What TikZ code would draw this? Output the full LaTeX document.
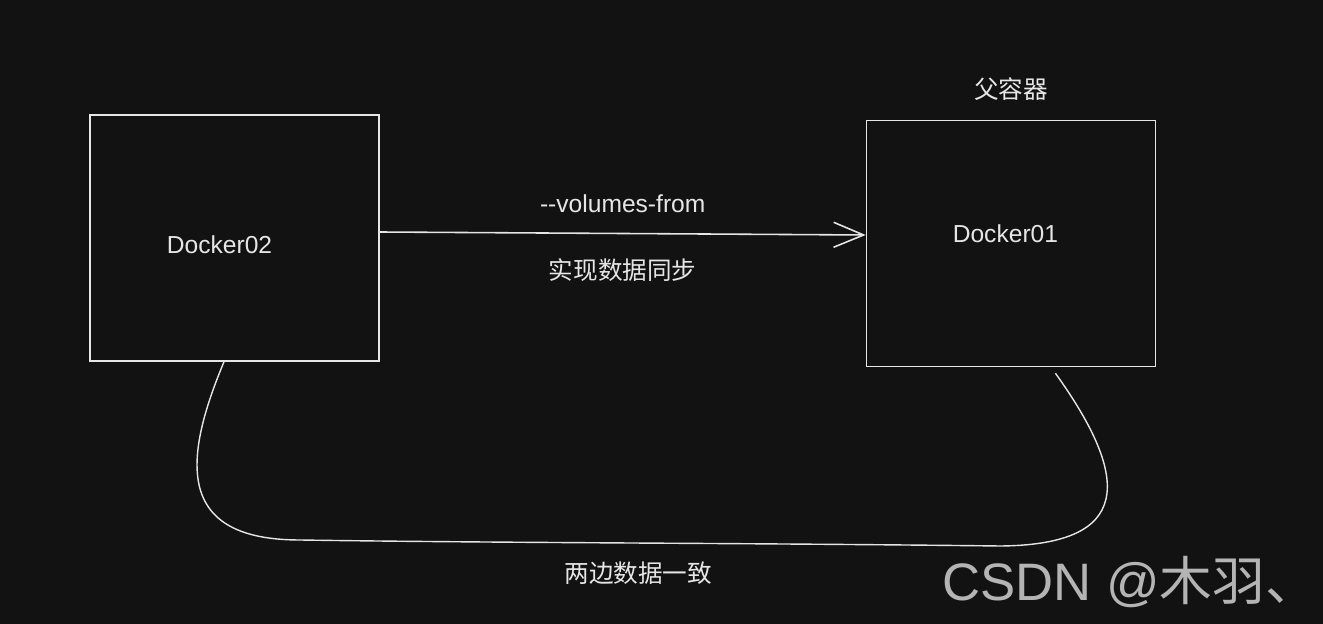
\documentclass[tikz,border=0pt]{standalone}
\usepackage{fontspec}
\setmainfont{Liberation Sans}
\newfontfamily\cjk{Noto Sans CJK SC}
\usepackage{xcolor}
\usetikzlibrary{arrows.meta, positioning}
\definecolor{bgdark}{HTML}{121212}
\definecolor{inkwhite}{HTML}{E6E6E6}
\definecolor{markgray}{HTML}{B4B4B4}

\begin{document}
\begin{tikzpicture}[
        x=0.02cm, y=-0.02cm,
        container/.style={rectangle, draw=inkwhite, line width=0.9pt, minimum width=5.78cm, minimum height=4.92cm},
        caption/.style={text=inkwhite, font={\fontsize{14}{17}\selectfont}},
        arrow/.style={draw=inkwhite, line width=0.9pt, -{Straight Barb[length=6mm, width=5mm]}},
        link/.style={draw=inkwhite, line width=0.8pt}
    ]
        % Canvas
        \fill[bgdark] (0,0) rectangle (1323,624);
        \useasboundingbox (0,0) rectangle (1323,624);

        % Containers
        \node (docker02) [container, label={[caption, xshift=-0.3cm, yshift=-0.14cm]center:Docker02}] at (234.5,238) {};
        \node (docker01) [container, right=9.72cm of docker02, yshift=-0.11cm, label={[caption, xshift=-0.11cm, yshift=0.19cm]center:Docker01}] {};
        \node (parent) [caption, above=0.26cm of docker01] {\cjk 父容器};

        % Volumes-from flow
        \draw [arrow] ([yshift=0.12cm]docker02.east) -- node[caption, above=0.29cm] {-\kern0pt-volumes-from} node[caption, below=0.38cm] {\cjk 实现数据同步} ([yshift=0.17cm]docker01.west);

        % Shared data link
        \draw [link] ([xshift=-0.21cm]docker02.south) .. controls (183,460) and (175,540) .. (300,540)
            .. controls (500,543) and (750,543) .. (1000,546) node[caption, below=0.24cm, pos=0.51] {\cjk 两边数据一致}
            .. controls (1132,545) and (1132,480) .. ([xshift=0.89cm, yshift=-0.12cm]docker01.south);

        % Watermark
        \node (mark) [text=markgray, inner sep=0pt, anchor=west, font={\fontsize{30}{36}\selectfont}] at (942,582) {CSDN @{\cjk 木羽、}};
    \end{tikzpicture}
\end{document}
